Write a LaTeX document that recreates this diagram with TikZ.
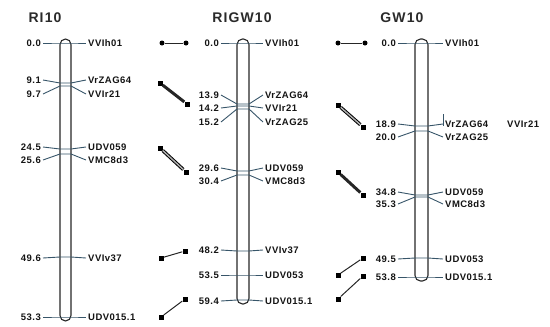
\documentclass[tikz,border=0pt]{standalone}
\usepackage{fontspec}
\setmainfont{Liberation Sans}
\newfontfamily\labfont[LetterSpace=5]{Liberation Sans}
\newfontfamily\titfont[LetterSpace=8]{Liberation Sans}
\definecolor{mkcol}{RGB}{55,85,105}
\definecolor{txt}{RGB}{20,20,20}
\begin{document}
\begin{tikzpicture}[x=1pt,y=-1pt,
  lab/.style={font=\labfont\bfseries\fontsize{9.5}{10}\selectfont,text=txt,inner sep=2pt},
  tit/.style={font=\titfont\bfseries\fontsize{14}{15}\selectfont,text=txt!80!gray,inner sep=0pt},
  mk/.style={draw=mkcol,line width=0.9pt},
  barst/.style={draw=black!85,line width=1.1pt,rounded corners=5.5pt},
  sq/.style={fill=black,draw=none,minimum size=5pt,inner sep=0pt},
  dt/.style={circle,fill=black,draw=none,minimum size=5pt,inner sep=0pt},
  thin/.style={draw=black!85,line width=1pt},
  thk/.style={draw=black!85,line width=3pt},
  dbl/.style={draw=black,line width=1pt,double=gray!60,double distance=1.4pt}]
\useasboundingbox (0,0) rectangle (550,327);
% titles
\node[tit] (t1) at (45,18) {RI10};
\node[tit] (t2) at (242,18) {RIGW10};
\node[tit] (t3) at (402,18) {GW10};
% bars
\draw[barst] (60,39) rectangle (71,321);
\draw[barst] (237,39) rectangle (249,304);
\draw[barst] (415,39) rectangle (428,281);
% RI10 markers
\foreach \n/\m/\yl/\yb/\k in {0.0/VVIh01/43/43/a,9.1/VrZAG64/80/83/b,9.7/VVIr21/94/86/c,24.5/UDV059/147/149/d,25.6/VMC8d3/160/154/e,49.6/VVIv37/258/257/f,53.3/UDV015.1/317/317/g}{
  \node[lab,anchor=east] (A\k) at (43,\yl) {\n};
  \node[lab,anchor=west] (B\k) at (86,\yl) {\m};
  \draw[mk] (A\k.east) -- (60,\yb) -- (71,\yb) -- (B\k.west);
}
% RIGW10 markers
\foreach \n/\m/\yl/\yb/\k in {0.0/VVIh01/43/43/a,13.9/VrZAG64/95/104/b,14.2/VVIr21/108/106/c,15.2/VrZAG25/122/109/d,29.6/UDV059/168/171/e,30.4/VMC8d3/181/175/f,48.2/VVIv37/250/251/g,53.5/UDV053/275/275/h,59.4/UDV015.1/301/300/i}{
  \node[lab,anchor=east] (C\k) at (221,\yl) {\n};
  \node[lab,anchor=west] (D\k) at (263,\yl) {\m};
  \draw[mk] (C\k.east) -- (237,\yb) -- (249,\yb) -- (D\k.west);
}
% GW10 markers
\foreach \n/\m/\yl/\yb/\k in {0.0/VVIh01/43/43/a,18.9/VrZAG64/124/126/b,20.0/VrZAG25/137/131/c,34.8/UDV059/192/195/d,35.3/VMC8d3/204/197/e,49.5/UDV053/259/258/f,53.8/UDV015.1/277/277/g}{
  \node[lab,anchor=east] (E\k) at (398,\yl) {\n};
  \node[lab,anchor=west] (F\k) at (443,\yl) {\m};
  \draw[mk] (E\k.east) -- (415,\yb) -- (428,\yb) -- (F\k.west);
}
\node[lab,anchor=west] (Fx) at (505,124) {VVIr21};
\coordinate (tk1) at (443,114);
\coordinate (tk2) at (443,126);
\draw[mk] (tk1) -- (tk2);
% left comparison connectors
\node[dt] (p1) at (162,43) {};
\node[dt] (p2) at (186,43) {};
\draw[thin] (p1) -- (p2);
\node[sq] (p3) at (160,83) {};
\node[sq] (p4) at (187,104) {};
\draw[thk] (p3) -- (p4);
\node[sq] (p5) at (160,148) {};
\node[sq] (p6) at (186,172) {};
\draw[dbl] (p5) -- (p6);
\node[sq] (p7) at (161,258) {};
\node[sq] (p8) at (185,251) {};
\draw[thin] (p7) -- (p8);
\node[sq] (p9) at (161,317) {};
\node[sq] (p10) at (185,299) {};
\draw[thin] (p9) -- (p10);
% right comparison connectors
\node[dt] (q1) at (338,43) {};
\node[dt] (q2) at (365,43) {};
\draw[thin] (q1) -- (q2);
\node[sq] (q3) at (338,105) {};
\node[sq] (q4) at (363,127) {};
\draw[dbl] (q3) -- (q4);
\node[sq] (q5) at (338,172) {};
\node[sq] (q6) at (363,195) {};
\draw[thk] (q5) -- (q6);
\node[sq] (q7) at (338,275) {};
\node[sq] (q8) at (363,258) {};
\draw[thin] (q7) -- (q8);
\node[sq] (q9) at (338,299) {};
\node[sq] (q10) at (363,276) {};
\draw[thin] (q9) -- (q10);
\end{tikzpicture}
\end{document}
